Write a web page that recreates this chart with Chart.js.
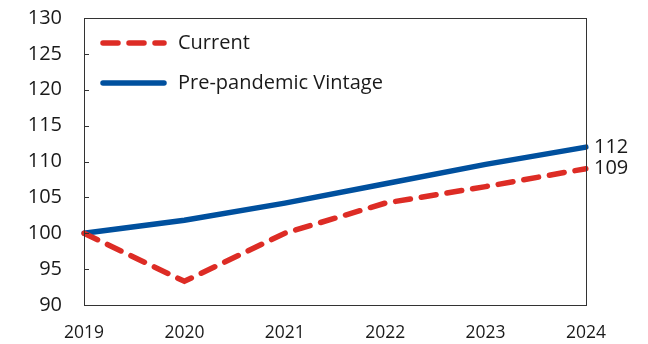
<!DOCTYPE html>
<html>
<head>
<meta charset="utf-8">
<script src="https://cdn.jsdelivr.net/npm/chart.js@4/dist/chart.umd.min.js"></script>
<style>
  html, body { margin: 0; padding: 0; background: #fff; }
  #wrap { width: 648px; height: 344px; position: relative; }
</style>
</head>
<body>
<div id="wrap"><canvas id="c"></canvas></div>
<script>
// Index levels, 2019 = 100
const years = ['2019', '2020', '2021', '2022', '2023', '2024'];
const current = [100, 93.3, 100, 104.2, 106.5, 109];
const prePandemic = [100, 101.8, 104.2, 106.9, 109.6, 112];
const yTicks = [90, 95, 100, 105, 110, 115, 120, 125, 130];

const RED = '#DD2C25';
const BLUE = '#00509E';
const TEXT = '#1a1a1a';
const FONT = "'Open Sans', 'Noto Sans', sans-serif";

// Frame around the plot, small inward ticks on the value axis,
// inset legend and end-of-line value labels.
const decorations = {
  id: 'decorations',
  afterDatasetsDraw(chart) {
    const { ctx, chartArea: a, scales } = chart;
    const y = scales.y;
    ctx.save();
    ctx.strokeStyle = '#333';
    ctx.lineWidth = 1;
    ctx.strokeRect(a.left + 0.5, a.top + 0.5, a.right - a.left, a.bottom - a.top);
    ctx.beginPath();
    yTicks.forEach(v => {
      const py = Math.round(y.getPixelForValue(v)) + 0.5;
      ctx.moveTo(a.left, py);
      ctx.lineTo(a.left + 5, py);
    });
    ctx.stroke();

    // legend
    chart.data.datasets.forEach((ds, i) => {
      const ly = 43 + i * 40;
      ctx.beginPath();
      ctx.strokeStyle = ds.borderColor;
      ctx.lineWidth = ds.borderWidth;
      ctx.lineCap = 'round';
      ctx.setLineDash(ds.borderDash || []);
      ctx.moveTo(a.left + 19, ly);
      ctx.lineTo(a.left + 80, ly);
      ctx.stroke();
      ctx.setLineDash([]);
      ctx.fillStyle = TEXT;
      ctx.font = '20px ' + FONT;
      ctx.textBaseline = 'middle';
      ctx.textAlign = 'left';
      ctx.fillText(ds.label, a.left + 94, ly);
    });

    // values at the last point
    chart.data.datasets.forEach(ds => {
      const last = ds.data[ds.data.length - 1];
      ctx.fillStyle = TEXT;
      ctx.font = '20px ' + FONT;
      ctx.textBaseline = 'middle';
      ctx.textAlign = 'left';
      ctx.fillText(String(Math.round(last)), a.right + 8, y.getPixelForValue(last));
    });
    ctx.restore();
  }
};

new Chart(document.getElementById('c'), {
  type: 'line',
  data: {
    labels: years,
    datasets: [
      {
        label: 'Current',
        data: current,
        borderColor: RED,
        borderWidth: 5.5,
        borderDash: [15, 11],
        borderCapStyle: 'round',
        pointRadius: 0,
        tension: 0,
        order: 1
      },
      {
        label: 'Pre-pandemic Vintage',
        data: prePandemic,
        borderColor: BLUE,
        borderWidth: 5.5,
        borderCapStyle: 'round',
        pointRadius: 0,
        tension: 0,
        order: 2
      }
    ]
  },
  options: {
    responsive: true,
    maintainAspectRatio: false,
    animation: false,
    layout: { padding: { left: 0, right: 62, top: 18, bottom: 0 } },
    plugins: { legend: { display: false }, tooltip: { enabled: false } },
    scales: {
      x: {
        type: 'category',
        offset: false,
        grid: { display: false, drawTicks: false },
        border: { display: false },
        ticks: { color: TEXT, font: { family: FONT, size: 17.5 }, padding: 18, maxRotation: 0 },
        afterFit(s) { s.height = 39; s.paddingLeft = 0; s.paddingRight = 0; }
      },
      y: {
        min: 90,
        max: 130,
        grid: { display: false, drawTicks: false },
        border: { display: false },
        afterBuildTicks(s) { s.ticks = yTicks.map(v => ({ value: v })); },
        ticks: { color: TEXT, font: { family: FONT, size: 20 }, padding: 22 },
        afterFit(s) { s.width = 84; s.paddingTop = 0; s.paddingBottom = 0; }
      }
    }
  },
  plugins: [decorations]
});
</script>
</body>
</html>
